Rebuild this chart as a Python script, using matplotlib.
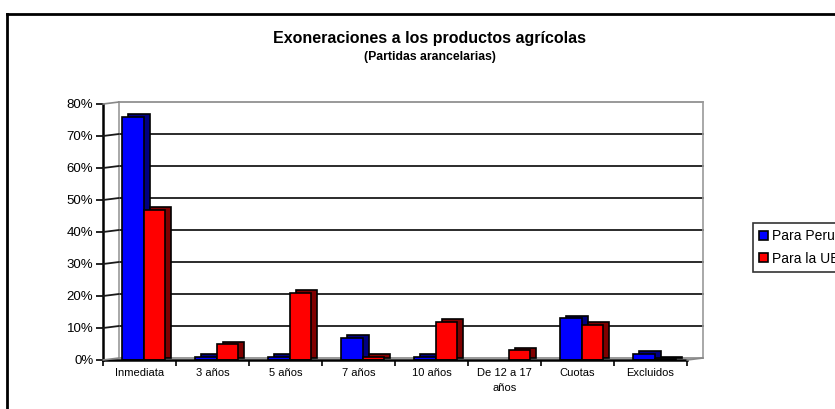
import matplotlib
matplotlib.use("Agg")
import matplotlib.pyplot as plt
from matplotlib.transforms import ScaledTranslation
from matplotlib.patches import Patch, ConnectionPatch
from matplotlib.lines import Line2D

categories = ["Inmediata", "3 años", "5 años", "7 años", "10 años", "De 12 a 17\naños", "Cuotas", "Excluidos"]
para_peru = [76, 1, 1, 7, 1, 0, 13, 2]
para_ue = [47, 5, 21, 1, 12, 3, 11, 0.3]
yticks = [0, 10, 20, 30, 40, 50, 60, 70, 80]
ytick_labels = ["0%", "10%", "20%", "30%", "40%", "50%", "60%", "70%", "80%"]
series_names = ["Para Peru", "Para la UE"]

plt.rcParams['font.family'] = ['Liberation Sans', 'DejaVu Sans']

W, H = 835, 409
fig = plt.figure(figsize=(W / 100, H / 100), dpi=100)
ax = fig.add_axes([103 / W, (H - 360) / H, (687 - 103) / W, (360 - 104) / H])
ax.set_xlim(-0.5, len(categories) - 0.5)
ax.set_ylim(0, 80)
for s in ax.spines.values():
    s.set_visible(False)
ax.patch.set_alpha(0)

# back wall (offset for 3D look)
wall = ax.transData + ScaledTranslation(0.16, 0.02, fig.dpi_scale_trans)
x0, x1 = -0.5, len(categories) - 0.5
for v in yticks:
    if v == 0 or v == 80:
        col, lw = '#888888', 1.2
    else:
        col, lw = '#1a1a1a', 1.3
    ax.plot([x0, x1], [v, v], color=col, lw=lw, transform=wall, clip_on=False, zorder=1)
    cp = ConnectionPatch((x0, v), (x0, v), coordsA=ax.transData, coordsB=wall,
                         color=col, lw=lw, zorder=1)
    fig.add_artist(cp)
ax.plot([x0, x0], [0, 80], color='#999999', lw=1.2, transform=wall, clip_on=False, zorder=1)
ax.plot([x1, x1], [0, 80], color='#999999', lw=1.2, transform=wall, clip_on=False, zorder=1)
cp = ConnectionPatch((x1, 0), (x1, 0), coordsA=ax.transData, coordsB=wall,
                     color='#888888', lw=1.2, zorder=1)
fig.add_artist(cp)

# bars with 3D side
w = 0.29
shadow = ax.transData + ScaledTranslation(0.06, 0.025, fig.dpi_scale_trans)
idx = list(range(len(categories)))
for vals, off, fc, sc in [(para_peru, -0.09, '#0000ff', '#000080'),
                          (para_ue, 0.20, '#ff0000', '#800000')]:
    xs = [i + off for i, v in zip(idx, vals) if v > 0]
    vs = [v for v in vals if v > 0]
    ax.bar(xs, vs, w, color=sc, edgecolor='black', linewidth=1.2,
           transform=shadow, clip_on=False, zorder=3)
    ax.bar(xs, vs, w, color=fc, edgecolor='black', linewidth=1.2,
           clip_on=False, zorder=4)

# front axes lines
ax.plot([x0, x0], [0, 80], color='black', lw=1.8, clip_on=False, zorder=5)
ax.plot([x0, x1], [0, 0], color='black', lw=1.8, clip_on=False, zorder=5)

ax.set_yticks(yticks)
ax.set_yticklabels(ytick_labels, fontsize=9.5)
ax.tick_params(axis='y', length=5, width=1.2, direction='out', pad=2, color='black')
ax.set_xticks(idx)
ax.set_xticklabels(categories, fontsize=8, linespacing=1.6)
ax.tick_params(axis='x', length=0, pad=6)
ax.set_xticks([i - 0.5 for i in idx] + [len(categories) - 0.5], minor=True)
ax.tick_params(axis='x', which='minor', length=4, width=1.2, direction='out', color='black')

# titles
fig.text(430 / W, 1 - 38 / H, "Exoneraciones a los productos agrícolas",
         ha='center', va='center', fontsize=11.5, fontweight='bold')
fig.text(430 / W, 1 - 57 / H, "(Partidas arancelarias)",
         ha='center', va='center', fontsize=8.8, fontweight='bold')

# outer border
fig.add_artist(Line2D([7 / W, 7 / W], [0, 1 - 14 / H], color='black', lw=2))
fig.add_artist(Line2D([7 / W, 1], [1 - 14 / H, 1 - 14 / H], color='black', lw=2))

# legend
handles = [Patch(facecolor='#0000ff', edgecolor='black', lw=1.2),
           Patch(facecolor='#ff0000', edgecolor='black', lw=1.2)]
leg = fig.legend(handles, series_names, loc='upper left',
                 bbox_to_anchor=(753 / W, 1 - 223 / H), fontsize=10,
                 frameon=True, fancybox=False, edgecolor='black',
                 handlelength=0.6, handleheight=0.6, handletextpad=0.35,
                 labelspacing=0.6, borderpad=0.45, borderaxespad=0)
leg.get_frame().set_linewidth(1.2)

fig.savefig("out.png", dpi=100)
